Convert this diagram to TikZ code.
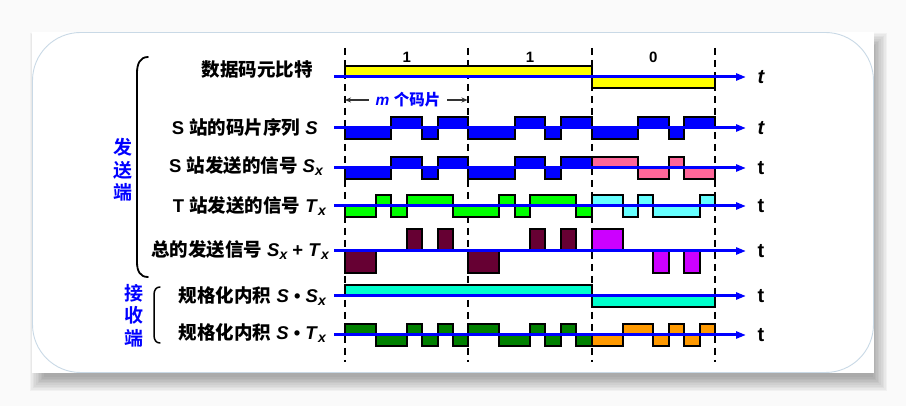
\documentclass[tikz,border=0pt]{standalone}
\usepackage{fontspec}
\setmainfont{Liberation Sans}
\newfontfamily\zhfont{Noto Sans CJK SC Bold}
\usetikzlibrary{arrows.meta}
\definecolor{cyel}{HTML}{FFFF00}
\definecolor{cblue}{HTML}{0000FF}
\definecolor{cpink}{HTML}{FF6699}
\definecolor{cgreen}{HTML}{00FF00}
\definecolor{clcyan}{HTML}{66FFFF}
\definecolor{cmaroon}{HTML}{660033}
\definecolor{cpurple}{HTML}{CC00FF}
\definecolor{caqua}{HTML}{00FFCC}
\definecolor{cdgreen}{HTML}{008000}
\definecolor{corange}{HTML}{FF9900}
\definecolor{cpanel}{HTML}{C9D9E6}
\definecolor{cbg}{HTML}{FAFAFA}
\newcommand{\zh}[1]{{\zhfont #1}}
\newcommand{\mysub}[1]{\raisebox{-0.4ex}{\fontsize{14}{14}\selectfont\itshape #1}}
\newcommand{\wave}[4]{\foreach \a/\b/\v in {#4}{\filldraw[wavebox, fill=#1] ({345+\a*15.4167},#2) rectangle ({345+\b*15.4167},{#2-(\v)*#3});}}
\tikzset{
  wavebox/.style={draw=black, line width=2pt, line join=miter},
  axisline/.style={draw=cblue, line width=3pt, -{Triangle[length=10pt,width=7pt]}},
  gridline/.style={draw=black, line width=1.8pt, dash pattern=on 7pt off 5pt},
  lab/.style={inner sep=0pt, font=\fontsize{18.5}{20}\selectfont\bfseries},
  tlab/.style={inner sep=0pt, font=\fontsize{20}{20}\selectfont\bfseries},
  bitlab/.style={inner sep=0pt, font=\fontsize{15}{16}\selectfont\bfseries},
  sidelab/.style={inner sep=0pt, text=cblue, align=center, font=\fontsize{19}{22.5}\selectfont},
  bracket/.style={draw=black, line width=1.8pt, line cap=round},
}
\begin{document}
\begin{tikzpicture}[x=1pt, y=-1pt]
\useasboundingbox (0,0) rectangle (906,406);
\fill[cbg] (0,0) rectangle (906,406);
% shadow
\foreach \k in {1,...,10}{
  \fill[black, opacity=0.037] ({28+\k*1.6},{31+\k*1.6}) rectangle ({889-\k*1.6},{393-\k*1.6});
}
% panel
\fill[white] (32,32) rectangle (874,373);
\draw[cpanel, line width=0.9pt, rounded corners=48pt] (32.5,32.5) rectangle (873.5,372.5);

% grid (dashed)
\foreach \i/\x in {0/345,1/468.33,2/591.67,3/715}{
  \coordinate (dt\i) at (\x,48);
  \coordinate (db\i) at (\x,362);
  \draw[gridline] (dt\i) -- (db\i);
}

% bit labels
\node[bitlab] (b1) at (406.7,57) {1};
\node[bitlab] (b2) at (530,57) {1};
\node[bitlab] (b3) at (653.3,57) {0};

% m chips
\node[inner sep=0pt, text=cblue, font=\fontsize{15.5}{17}\selectfont\bfseries] (mlab) at (408,100) {\textit{m} \zh{个码片}};
\coordinate (ma) at (345,100);
\coordinate (mb) at (467.5,100);
\draw[line width=1.2pt, draw=black!80, -{Stealth[length=6pt,width=5pt]}] (mlab.west) ++(-7,0) -- (ma);
\draw[line width=1.2pt, draw=black!80, -{Stealth[length=6pt,width=5pt]}] (mlab.east) ++(7,0) -- (mb);

% waveforms
\wave{cyel}{77}{11}{0/16/1,16/24/-1}
\wave{cblue}{128}{11}{0/3/-1,3/5/1,5/6/-1,6/8/1,8/11/-1,11/13/1,13/14/-1,14/16/1,16/19/-1,19/21/1,21/22/-1,22/24/1}
\wave{cblue}{168}{11}{0/3/-1,3/5/1,5/6/-1,6/8/1,8/11/-1,11/13/1,13/14/-1,14/16/1}
\wave{cpink}{168}{11}{16/19/1,19/21/-1,21/22/1,22/24/-1}
\wave{cgreen}{206}{11}{0/2/-1,2/3/1,3/4/-1,4/7/1,7/10/-1,10/11/1,11/12/-1,12/15/1,15/16/-1}
\wave{clcyan}{206}{11}{16/18/1,18/19/-1,19/20/1,20/23/-1,23/24/1}
\wave{cmaroon}{251}{11}{0/2/-2,4/5/2,6/7/2,8/10/-2,12/13/2,14/15/2}
\wave{cpurple}{251}{11}{16/18/2,20/21/-2,22/23/-2}
\wave{caqua}{296}{11}{0/16/1,16/24/-1}
\wave{cdgreen}{335}{11}{0/2/1,2/4/-1,4/5/1,5/6/-1,6/7/1,7/8/-1,8/10/1,10/12/-1,12/13/1,13/14/-1,14/15/1,15/16/-1}
\wave{corange}{335}{11}{16/18/-1,18/20/1,20/21/-1,21/22/1,22/23/-1,23/24/1}

% axes
\foreach \r/\y/\tt in {1/77/\itshape t,2/128/\itshape t,3/168/t,4/206/t,5/251/t,6/296/t,7/335/t}{
  \coordinate (s\r) at (334,\y);
  \coordinate (e\r) at (746,\y);
  \draw[axisline] (s\r) -- (e\r);
  \node[tlab] (t\r) at (761,\y) {\tt};
}

% row labels
\node[lab, anchor=east] (l1) at (313,70) {\zh{数据码元比特}};
\node[lab, anchor=east] (l2) at (318,127) {S \zh{站的码片序列} \textit{S}};
\node[lab, anchor=east] (l3) at (323,166) {S \zh{站发送的信号} \textit{S}\mysub{x}};
\node[lab, anchor=east] (l4) at (326,206) {T \zh{站发送的信号} \textit{T}\mysub{x}};
\node[lab, anchor=east] (l5) at (329,250) {\zh{总的发送信号} \textit{S}\mysub{x} + \textit{T}\mysub{x}};
\node[lab, anchor=east] (l6) at (326,296) {\zh{规格化内积} \textit{S} \textbullet\ \textit{S}\mysub{x}};
\node[lab, anchor=east] (l7) at (326,333) {\zh{规格化内积} \textit{S} \textbullet\ \textit{T}\mysub{x}};

% brackets
\coordinate (bt) at (148,57);
\coordinate (bb) at (148,277);
\draw[bracket] (bt) .. controls (140,57) and (137,64) .. (137,73) -- (137,262) .. controls (137,271) and (140,277) .. (bb);
\coordinate (ct) at (160,287);
\coordinate (cb) at (160,343);
\draw[bracket, line width=1.5pt] (ct) .. controls (156,287) and (154,290) .. (154,295) -- (154,335) .. controls (154,340) and (156,343) .. (cb);

% side labels
\node[sidelab] (send) at (122.5,170) {\zh{发}\\[0pt]\zh{送}\\[0pt]\zh{端}};
\node[sidelab] (recv) at (134,315.5) {\zh{接}\\[0pt]\zh{收}\\[0pt]\zh{端}};
\end{tikzpicture}
\end{document}
